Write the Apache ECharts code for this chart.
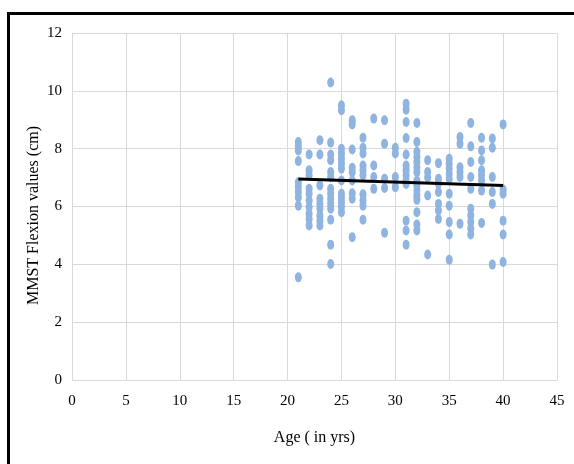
<!DOCTYPE html>
<html><head><meta charset="utf-8">
<script src="https://cdn.jsdelivr.net/npm/echarts@6/dist/echarts.min.js"></script>
<style>html,body{margin:0;padding:0;background:#fff}#c{width:574px;height:464px}</style>
</head><body><div id="c"></div>
<script>
const ages = [21,22,23,24,25,26,27,28,29,30,31,32,33,34,35,36,37,38,39,40];
const mmst = [
  [8.23,8.08,7.94,7.57,6.84,6.67,6.5,6.32,6.03,3.55],
  [7.8,7.25,7.08,6.61,6.44,6.21,5.98,5.75,5.57,5.34],
  [8.29,7.8,6.73,6.27,6.09,5.92,5.69,5.51,5.34],
  [10.29,8.21,7.8,7.6,7.19,7.01,6.61,6.44,6.27,6.09,5.92,5.54,4.68,4.01],
  [9.5,9.33,8.0,7.83,7.65,7.48,7.31,6.9,6.44,6.3,6.15,5.98,5.8],
  [8.98,8.84,7.97,7.34,7.19,6.9,6.46,6.27,4.94],
  [8.38,8.03,7.83,7.42,7.25,7.08,6.42,6.21,6.03,5.54],
  [9.04,7.42,7.02,6.61],
  [8.98,8.17,6.96,6.64,5.09],
  [8.03,7.83,7.02,6.67],
  [9.55,9.35,8.92,8.37,7.8,7.42,7.25,7.08,6.9,6.78,5.51,5.17,4.68],
  [8.89,8.23,7.89,7.72,7.54,7.36,7.19,6.9,6.73,6.55,6.38,6.23,5.8,5.38,5.17],
  [7.6,7.19,7.0,6.38,4.34],
  [7.5,6.96,6.79,6.5,6.09,5.86,5.57],
  [7.65,7.48,7.31,7.13,6.96,6.44,6.03,5.46,5.03,4.16],
  [8.4,8.17,7.36,7.19,7.02,5.4],
  [8.89,8.08,7.54,7.02,6.61,5.92,5.69,5.46,5.23,5.03],
  [8.38,7.94,7.6,7.25,7.08,6.9,6.55,5.43],
  [8.35,8.03,7.02,6.5,6.09,3.99],
  [8.84,6.59,6.44,5.51,5.03,4.08]
];
const trendAges = [21, 40];
const trendValues = [6.95, 6.73];
const xTicks = [0,5,10,15,20,25,30,35,40,45];
const yTicks = [0,2,4,6,8,10,12];

const points = [];
ages.forEach((a, i) => mmst[i].forEach(v => points.push([a, v])));
const trend = trendAges.map((a, i) => [a, trendValues[i]]);

const font = '"Liberation Serif", "Times New Roman", serif';
const chart = echarts.init(document.getElementById('c'), null, {renderer: 'canvas'});
chart.setOption({
  animation: false,
  backgroundColor: '#fff',
  grid: {left: 72, right: 17, top: 33, bottom: 84},
  xAxis: {
    type: 'value', min: xTicks[0], max: xTicks[xTicks.length-1], interval: 5,
    name: 'Age ( in yrs)', nameLocation: 'middle', nameGap: 50,
    nameTextStyle: {fontFamily: font, fontSize: 16, color: '#000'},
    axisLine: {show: true, lineStyle: {color: '#d9d9d9'}},
    axisTick: {show: false},
    axisLabel: {fontFamily: font, fontSize: 15, color: '#000', margin: 14},
    splitLine: {show: true, lineStyle: {color: '#d9d9d9'}}
  },
  yAxis: {
    type: 'value', min: yTicks[0], max: yTicks[yTicks.length-1], interval: 2,
    name: 'MMST Flexion values (cm)', nameLocation: 'middle', nameGap: 30,
    nameMoveOverlap: false,
    nameTextStyle: {fontFamily: font, fontSize: 16, color: '#000', padding: [0, 18, 0, 0]},
    axisLine: {show: false},
    axisTick: {show: false},
    axisLabel: {fontFamily: font, fontSize: 15, color: '#000', margin: 10},
    splitLine: {show: true, lineStyle: {color: '#d9d9d9'}}
  },
  graphic: [
    {type: 'line', shape: {x1: 8.5, y1: 13.5, x2: 8.5, y2: 464}, style: {stroke: '#000', lineWidth: 3}},
    {type: 'line', shape: {x1: 7, y1: 13.5, x2: 574, y2: 13.5}, style: {stroke: '#000', lineWidth: 3}}
  ],
  series: [
    {type: 'scatter', data: points, symbol: 'circle', symbolSize: [7, 10],
     itemStyle: {color: '#8fb4e0', opacity: 1}},
    {type: 'line', data: trend, symbol: 'none', lineStyle: {color: '#000', width: 3}, z: 5}
  ]
});
</script></body></html>
